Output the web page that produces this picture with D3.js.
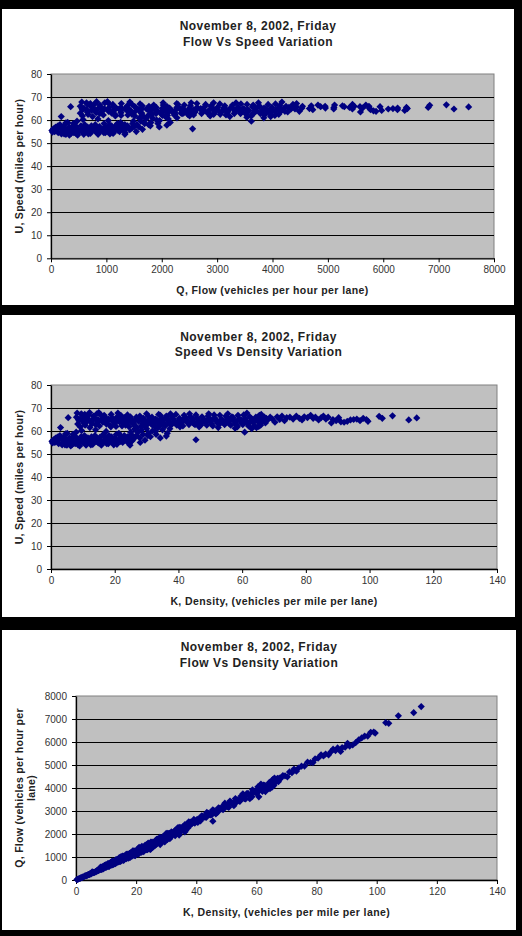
<!DOCTYPE html>
<html><head><meta charset="utf-8">
<script src="https://cdn.jsdelivr.net/npm/d3@7"></script>
<style>html,body{margin:0;padding:0;background:#000;} svg{display:block;}</style>
</head><body><svg id="c" width="522" height="936"></svg>
<script>
// ---- observations (density k, speed u, flow q) ----
const density = [
0.3,0.8,1.2,1.6,2.0,2.4,2.8,3.0,3.3,3.7,
4.0,4.4,4.8,5.1,5.5,5.8,6.2,6.5,6.9,7.2,
7.6,8.0,8.3,8.7,9.0,9.4,9.8,10.1,10.5,10.9,
11.2,11.6,12.0,12.3,12.7,13.1,13.4,13.8,14.2,14.5,
14.9,15.3,15.6,16.0,16.4,16.7,17.1,17.5,17.8,18.2,
18.6,19.0,19.3,19.7,20.1,20.5,20.9,21.3,21.6,22.0,
22.5,23.0,23.5,24.0,24.6,25.2,25.8,0.5,1.4,2.2,
3.5,4.2,5.0,5.9,6.7,7.4,8.5,9.2,10.3,11.0,
11.8,12.5,13.6,14.7,15.8,16.9,18.0,19.5,20.7,21.8,
22.8,23.8,24.3,25.5,26.3,9.6,14.0,17.3,4.6,7.9,
26.8,27.3,27.9,28.4,28.9,29.5,30.0,30.6,31.2,31.8,
32.5,33.0,33.6,34.3,35.0,35.8,36.5,37.3,38.0,45.5,
26.2,29.2,31.5,34.8,25.0,28.0,30.4,32.8,36.2,24.8,
8.0,8.8,9.5,10.3,11.0,11.8,12.5,13.3,14.0,14.8,
15.5,16.3,17.0,17.8,18.5,19.3,20.0,20.8,21.5,22.3,
23.0,23.8,24.5,25.3,26.0,26.8,27.5,28.3,29.0,29.8,
30.5,31.3,32.0,32.8,33.5,34.3,35.0,35.8,36.5,37.3,
38.0,38.8,39.5,40.3,41.0,41.8,42.5,43.3,44.0,44.8,
45.5,46.3,47.0,47.8,48.5,49.3,50.0,50.8,51.5,52.3,
53.0,53.8,54.5,55.3,56.0,56.8,57.5,58.3,59.0,59.8,
60.5,61.3,62.0,62.8,63.5,64.3,65.0,65.8,66.5,67.3,
8.4,9.1,9.9,10.7,11.4,12.1,12.9,13.7,14.4,15.2,
15.9,16.7,17.4,18.1,18.9,19.7,20.4,21.2,21.9,22.7,
23.4,24.2,24.9,25.7,26.4,27.2,27.9,28.7,29.4,30.2,
30.9,31.7,32.4,33.2,33.9,34.7,35.4,36.2,36.9,37.7,
38.4,39.2,39.9,40.7,41.4,42.2,42.9,43.7,44.4,45.2,
45.9,46.7,47.4,48.2,48.9,49.7,50.4,51.2,51.9,52.7,
53.4,54.2,54.9,55.7,56.4,57.2,57.9,58.7,59.4,60.2,
60.9,61.7,62.4,63.2,63.9,64.7,65.4,66.2,66.9,67.6,
8.6,10.0,11.5,13.0,14.6,16.0,17.6,19.0,20.6,22.0,
23.6,25.0,26.6,28.0,29.6,31.0,32.6,34.0,35.6,37.0,
38.6,40.0,41.6,43.0,44.6,46.0,47.6,49.0,50.6,52.0,
53.6,55.0,56.6,58.0,59.6,61.0,62.6,64.0,65.6,67.0,
9.2,12.2,15.0,18.8,21.0,24.0,27.0,30.0,33.8,37.5,
40.5,43.5,46.5,49.5,52.5,55.5,58.5,61.5,64.5,66.0,
60.8,63.0,65.2,57.8,5.4,8.2,10.6,
68.0,68.8,69.5,70.3,71.0,71.8,72.5,73.3,74.0,75.0,
76.0,77.0,78.0,78.8,79.5,80.5,81.5,82.3,83.0,84.0,
84.8,85.5,86.3,87.0,88.0,88.5,89.5,90.3,91.0,92.0,
93.0,94.0,95.0,96.0,97.0,98.0,99.0,99.5,103.0,104.0,
107.2,112.3,114.8
];
const speed = [
55.5,56.2,55.0,57.0,55.8,54.5,58.0,61.5,56.5,55.0,
57.5,54.0,56.0,59.0,55.2,57.0,53.5,56.5,58.5,55.0,
54.5,57.0,56.0,55.5,53.5,57.5,56.0,55.0,58.0,54.5,
56.5,57.0,55.0,55.8,57.5,54.2,56.0,58.0,55.5,56.8,
54.8,57.2,56.0,55.0,58.5,55.5,57.0,54.5,56.5,58.0,
55.8,57.5,56.0,54.0,57.0,58.5,55.5,59.0,56.5,57.5,
55.0,58.0,56.0,57.5,54.5,58.5,56.5,54.8,56.8,57.5,
54.0,55.5,53.8,55.0,54.2,57.8,54.0,55.2,56.8,53.8,
55.5,54.0,56.2,55.2,53.8,56.2,54.5,55.2,54.2,55.5,
56.8,55.5,57.0,55.8,57.2,60.2,60.5,59.8,58.8,59.5,
58.0,59.5,57.0,60.5,58.5,56.0,61.0,59.0,57.5,60.0,
62.0,58.5,61.5,57.0,60.5,62.5,59.0,61.0,63.0,56.2,
60.8,62.5,63.0,63.5,59.5,55.0,58.0,59.8,57.8,53.8,
66.0,64.5,67.5,63.5,65.8,67.0,64.0,66.5,62.8,65.0,
67.2,63.8,66.0,64.5,62.5,65.5,63.2,66.2,64.0,62.2,
65.8,63.5,61.8,65.0,63.0,66.0,64.2,62.0,65.5,63.8,
66.5,64.0,62.5,65.2,63.5,66.8,64.5,62.2,65.0,63.0,
66.2,64.0,62.5,65.5,63.5,66.8,64.2,62.8,65.8,63.2,
67.0,64.5,62.5,65.2,63.8,66.5,64.0,62.2,65.5,63.5,
66.8,64.8,62.8,65.8,63.2,66.2,64.2,62.5,65.2,63.5,
67.0,64.5,62.2,65.5,63.8,66.0,64.0,62.5,65.2,63.5,
63.0,65.2,66.8,62.5,64.2,68.0,63.2,65.5,67.5,62.2,
64.8,66.8,63.0,65.2,67.2,64.0,62.0,65.0,66.8,63.8,
62.5,64.8,66.2,63.2,62.2,65.2,66.5,63.0,64.5,62.8,
65.0,66.0,63.8,64.8,62.0,65.5,63.2,66.5,64.0,62.8,
65.2,67.2,63.5,64.8,62.2,65.8,63.8,66.2,64.0,62.8,
65.5,63.0,66.2,64.8,62.5,65.2,63.2,67.0,64.5,62.8,
65.0,63.5,66.5,64.2,62.5,65.8,63.2,66.8,64.5,62.8,
65.5,63.5,66.2,64.2,62.2,65.0,66.8,63.8,64.8,65.5,
65.0,64.5,65.5,64.8,64.0,65.2,64.2,64.8,65.0,64.5,
65.2,64.2,64.8,65.0,64.2,65.5,64.5,64.0,65.2,64.8,
63.8,64.5,65.0,64.2,65.2,64.0,63.8,64.5,65.0,64.2,
63.8,64.5,65.2,64.0,65.0,64.0,63.8,64.5,65.5,66.0,
61.8,61.5,68.0,61.8,67.8,67.0,61.5,67.5,67.2,67.5,
61.8,67.5,61.8,67.5,61.5,67.5,61.8,67.8,61.5,67.2,
59.5,61.0,62.0,61.2,65.8,67.8,67.2,
64.8,66.0,65.2,63.8,66.2,65.0,66.5,64.5,65.8,66.0,
65.2,66.5,65.5,64.8,66.2,65.8,66.8,65.5,66.0,64.8,
65.8,66.5,65.2,66.0,63.5,65.0,64.5,65.8,64.0,63.8,
64.2,64.8,65.0,65.2,64.5,65.5,65.0,64.2,66.4,65.5,
66.6,64.8,65.7
];
const flow = [
17,45,66,91,112,131,162,185,186,204,
230,238,269,301,304,331,332,367,404,396,
414,456,465,483,482,541,549,556,609,594,
633,661,660,686,730,710,750,800,788,824,
817,875,874,880,959,927,975,954,1006,1056,
1038,1093,1081,1064,1146,1199,1160,1257,1220,1265,
1238,1334,1316,1380,1341,1474,1458,27,80,127,
189,233,269,325,363,428,459,508,585,592,
655,675,764,811,850,950,981,1076,1122,1210,
1295,1321,1385,1423,1504,578,847,1035,270,470,
1554,1624,1590,1718,1691,1652,1830,1805,1794,1908,
2015,1931,2066,1955,2118,2238,2154,2275,2394,2557,
1593,1825,1985,2210,1488,1540,1763,1961,2092,1334,
528,568,641,654,724,791,800,884,879,962,
1042,1040,1122,1148,1156,1264,1264,1377,1376,1387,
1513,1511,1514,1645,1638,1769,1766,1755,1900,1901,
2028,2003,2000,2139,2127,2291,2258,2227,2373,2350,
2516,2483,2469,2640,2604,2792,2729,2719,2895,2831,
3049,2986,2938,3117,3094,3278,3200,3160,3373,3321,
3540,3486,3423,3639,3539,3760,3692,3644,3847,3797,
4054,3954,3856,4113,4051,4244,4160,4113,4336,4274,
529,593,661,669,732,823,815,897,972,945,
1030,1116,1096,1180,1270,1261,1265,1378,1463,1448,
1463,1568,1648,1624,1642,1773,1855,1808,1896,1897,
2009,2092,2067,2151,2102,2273,2237,2407,2362,2368,
2504,2634,2534,2637,2575,2777,2737,2893,2842,2839,
3006,2942,3138,3123,3056,3240,3185,3430,3348,3310,
3471,3442,3651,3576,3525,3764,3659,3921,3831,3781,
3989,3918,4131,4057,3975,4206,4369,4224,4335,4428,
559,645,753,842,934,1043,1130,1231,1339,1419,
1539,1605,1724,1820,1900,2031,2103,2176,2321,2398,
2463,2580,2704,2761,2908,2944,3037,3161,3289,3338,
3420,3548,3690,3712,3874,3904,3994,4128,4297,4422,
569,750,1020,1162,1424,1608,1661,2025,2271,2531,
2503,2936,2874,3341,3229,3746,3615,4170,3967,4435,
3618,3843,4042,3537,355,556,712,
4406,4541,4531,4485,4700,4667,4821,4728,4869,4950,
4955,5121,5109,5106,5263,5297,5444,5391,5478,5443,
5580,5686,5627,5742,5588,5753,5773,5942,5824,5870,
5971,6091,6175,6259,6257,6419,6435,6388,6839,6812,
7140,7277,7542
];

// ---- ticks and texts ----
const speedTicks = [0,10,20,30,40,50,60,70,80];
const flowTicks = [0,1000,2000,3000,4000,5000,6000,7000,8000];
const densityTicks = [0,20,40,60,80,100,120,140];
const titleDate = "November 8, 2002, Friday";
const chartTitles = ["Flow Vs Speed Variation","Speed Vs Density Variation","Flow Vs Density Variation"];
const xTitles = ["Q, Flow (vehicles per hour per lane)","K, Density, (vehicles per mile per lane)","K, Density, (vehicles per mile per lane)"];
const yTitles = [["U, Speed (miles per hour)"],["U, Speed (miles per hour)"],["Q, Flow (vehicles per hour per","lane)"]];

const FONT = "Arial, 'Liberation Sans', sans-serif";
const svg = d3.select("#c");

const panels = [
  {box:[2,9,512,296], plot:[51,74,494,258.3], xs:flow, ys:speed, xt:flowTicks, yt:speedTicks,
   titleY:[30,45.5], xTitleY:293.5, yTitleX:[19]},
  {box:[2,315,513,302], plot:[51,385,497,569], xs:density, ys:speed, xt:densityTicks, yt:speedTicks,
   titleY:[340.7,356.3], xTitleY:605.2, yTitleX:[19]},
  {box:[2,630,514,300], plot:[76,696,497,880], xs:density, ys:flow, xt:densityTicks, yt:flowTicks,
   titleY:[650.7,666.7], xTitleY:916.3, yTitleX:[19,31]}
];

const diamond = {draw(ctx,size){const r=Math.sqrt(size/2);ctx.moveTo(0,-r);ctx.lineTo(r,0);ctx.lineTo(0,r);ctx.lineTo(-r,0);ctx.closePath();}};
const sym = d3.symbol().type(diamond).size(26);
const fmt = d3.format("d");

panels.forEach((p,i)=>{
  const [bx,by,bw,bh] = p.box;
  svg.append("rect").attr("x",bx).attr("y",by).attr("width",bw).attr("height",bh).attr("fill","#fff");
  const [x0,y0,x1,y1] = p.plot;
  const x = d3.scaleLinear().domain(d3.extent(p.xt)).range([x0,x1]);
  const y = d3.scaleLinear().domain(d3.extent(p.yt)).range([y1,y0]);
  const g = svg.append("g");
  g.append("rect").attr("x",x0).attr("y",y0).attr("width",x1-x0).attr("height",y1-y0)
    .attr("fill","#c0c0c0").attr("stroke","#808080").attr("stroke-width",1);
  g.selectAll("line.grid").data(p.yt.slice(1,-1)).join("line").attr("class","grid")
    .attr("x1",x0).attr("x2",x1).attr("y1",d=>Math.round(y(d))+0.5).attr("y2",d=>Math.round(y(d))+0.5)
    .attr("stroke","#000").attr("stroke-width",1.2);
  // axes
  const ax = g.append("g").attr("transform",`translate(0,${y1})`)
    .call(d3.axisBottom(x).tickValues(p.xt).tickFormat(fmt).tickSize(4).tickSizeOuter(0).tickPadding(4));
  const ay = g.append("g").attr("transform",`translate(${x0},0)`)
    .call(d3.axisLeft(y).tickValues(p.yt).tickFormat(fmt).tickSize(4).tickSizeOuter(0).tickPadding(5));
  [ax,ay].forEach(a=>{
    a.selectAll("path.domain").attr("stroke","#000").attr("stroke-width",1.3);
    a.selectAll("line").attr("stroke","#000");
    a.selectAll("text").attr("font-family",FONT).attr("font-size",10).attr("fill","#333");
  });
  // points
  g.append("g").selectAll("path").data(d3.range(p.xs.length)).join("path")
    .attr("d",sym).attr("transform",k=>`translate(${x(p.xs[k])},${y(p.ys[k])})`)
    .attr("fill","#000080");
  // titles
  const cx = bx + bw/2;
  [titleDate, chartTitles[i]].forEach((t,j)=>{
    svg.append("text").attr("x",cx).attr("y",p.titleY[j]).attr("text-anchor","middle")
      .attr("font-family",FONT).attr("font-weight","bold").attr("font-size",12)
      .attr("letter-spacing",0.5).attr("fill","#222").text(t);
  });
  svg.append("text").attr("x",(x0+x1)/2).attr("y",p.xTitleY).attr("text-anchor","middle")
    .attr("font-family",FONT).attr("font-weight","bold").attr("font-size",10.5)
    .attr("letter-spacing",0.4).attr("fill","#222").text(xTitles[i]);
  const cy = (y0+y1)/2;
  yTitles[i].forEach((t,j)=>{
    svg.append("text").attr("transform",`translate(${p.yTitleX[j]},${cy}) rotate(-90)`)
      .attr("text-anchor","middle").attr("dominant-baseline","central")
      .attr("font-family",FONT).attr("font-weight","bold").attr("font-size",10.5)
      .attr("letter-spacing",0.3).attr("fill","#222").text(t);
  });
});
</script>
</body></html>
